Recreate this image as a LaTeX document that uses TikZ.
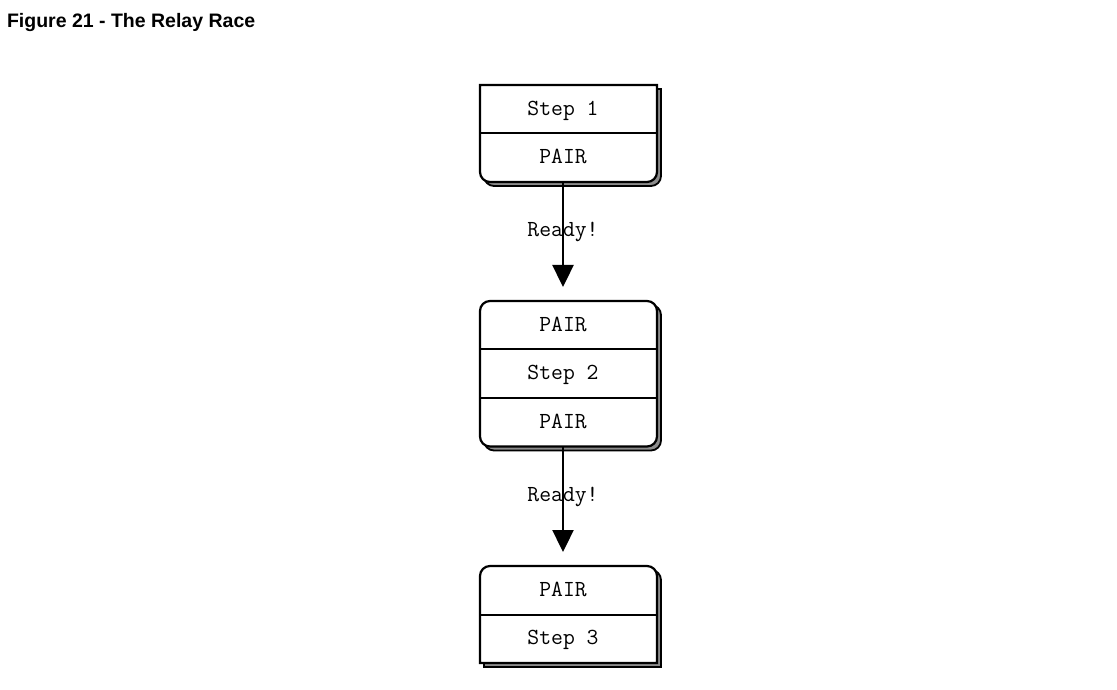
\documentclass[tikz,border=0pt]{standalone}
\usepackage{fontspec}
\newfontfamily\titlefont{Liberation Sans}
\usetikzlibrary{arrows.meta,positioning,backgrounds}

\begin{document}
\begin{tikzpicture}[x=1pt,y=1pt,>={Triangle[length=22pt,width=21pt]},
  cell/.style={minimum width=166pt,minimum height=48.5pt,inner sep=0pt,outer sep=0pt,
    font=\fontsize{23}{25}\selectfont\ttfamily,text depth=2pt},
  mainbox/.style={draw=black,fill=white,line width=2.2pt},
  shadowbox/.style={draw=black,fill=black!45,line width=1.8pt,
    transform canvas={shift={(4pt,-4pt)}}},
  divline/.style={line width=2pt},
  flow/.style={->,line width=2.4pt,shorten >=14pt},
  lbl/.style={font=\fontsize{23}{25}\selectfont\ttfamily,inner sep=0pt}]
  \useasboundingbox (0,0) rectangle (1117,689);
  % 标题
  \node[anchor=base west,font=\titlefont\bfseries\fontsize{19.5}{22}\selectfont] (title)
    at (3.5,661) {Figure 21 - The Relay Race};
  % 第一棒
  \node[cell] (s1a) at (563,579.75) {Step 1};
  \node[cell,below=0pt of s1a] (s1b) {PAIR};
  % 第二棒
  \node[cell] (s2a) at (563,363.75) {PAIR};
  \node[cell,below=0pt of s2a] (s2b) {Step 2};
  \node[cell,below=0pt of s2b] (s2c) {PAIR};
  % 第三棒
  \node[cell] (s3a) at (563,98.75) {PAIR};
  \node[cell,below=0pt of s3a] (s3b) {Step 3};
  % 外框与阴影
  \begin{scope}[on background layer]
    \foreach \st in {shadowbox,mainbox} {
      \path[\st] (s1a.north west) -- ([xshift=11pt]s1a.north east)
        -- ([xshift=11pt,yshift=10pt]s1b.south east) arc[start angle=0,end angle=-90,radius=10pt]
        -- ([xshift=10pt]s1b.south west) arc[start angle=270,end angle=180,radius=10pt] -- cycle;
      \path[\st,rounded corners=10pt] (s2a.north west) rectangle ([xshift=11pt]s2c.south east);
      \path[\st] (s3b.south west) -- ([yshift=-10pt]s3a.north west)
        arc[start angle=180,end angle=90,radius=10pt]
        -- ([xshift=1pt]s3a.north east) arc[start angle=90,end angle=0,radius=10pt]
        -- ([xshift=11pt]s3b.south east) -- cycle;
    }
  \end{scope}
  % 分隔线
  \draw[divline] (s1a.south west) -- ([xshift=11pt]s1a.south east);
  \draw[divline] (s2a.south west) -- ([xshift=11pt]s2a.south east);
  \draw[divline] (s2b.south west) -- ([xshift=11pt]s2b.south east);
  \draw[divline] (s3a.south west) -- ([xshift=11pt]s3a.south east);
  % 交接
  \draw[flow] (s1b.south) -- node[lbl,pos=0.42] {Ready!} (s2a.north);
  \draw[flow] (s2c.south) -- node[lbl,pos=0.42] {Ready!} (s3a.north);
\end{tikzpicture}
\end{document}
